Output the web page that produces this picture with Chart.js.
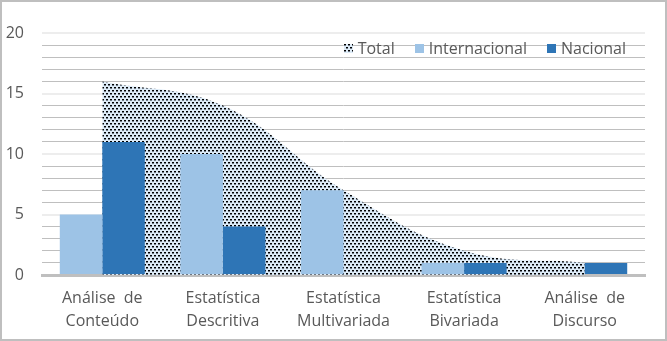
<!DOCTYPE html>
<html>
<head>
<meta charset="utf-8">
<script src="https://cdn.jsdelivr.net/npm/chart.js@4.4.1/dist/chart.umd.min.js"></script>
<style>
  html, body { margin: 0; padding: 0; background: #fff; }
  #wrap { position: relative; width: 667px; height: 341px; overflow: hidden; }
  #frame { position: absolute; left: 0; top: 0; width: 667px; height: 341px; box-sizing: border-box; border: 2px solid #BFBFBF; pointer-events: none; }
  #legend { position: absolute; top: 39px; right: 41px; display: flex; align-items: center; font-family: "Open Sans", sans-serif; font-size: 16px; line-height: 18px; color: #595959; white-space: nowrap; }
  #legend .item { display: flex; align-items: center; margin-left: 20px; }
  #legend .item:first-child { margin-left: 0; }
  #legend .box { display: inline-block; width: 9px; height: 9px; margin-right: 5px; }
</style>
</head>
<body>
<div id="wrap">
  <canvas id="c" width="667" height="341"></canvas>
  <div id="legend"></div>
  <div id="frame"></div>
</div>
<script>
const categories = [['Análise  de', 'Conteúdo'], ['Estatística', 'Descritiva'], ['Estatística', 'Multivariada'], ['Estatística', 'Bivariada'], ['Análise  de', 'Discurso']];
const seriesNames = ['Total', 'Internacional', 'Nacional'];
const total = [16, 14, 7, 2, 1];
const internacional = [5, 10, 7, 1, 0];
const nacional = [11, 4, 0, 1, 1];
const yTickLabels = [0, 5, 10, 15, 20];

const FONT = '"Open Sans", sans-serif';
const TEXT = '#595959';
const C_INT = '#9DC3E6';
const C_NAC = '#2E75B6';

function makePattern() {
  const t = document.createElement('canvas');
  t.width = 4; t.height = 6;
  const g = t.getContext('2d');
  g.fillStyle = '#DDEBF7';
  g.fillRect(0, 0, 4, 6);
  g.fillStyle = '#000000';
  g.fillRect(0, 0, 2, 1);
  g.fillRect(2, 3, 2, 1);
  g.fillStyle = '#6E7782';
  g.fillRect(0, 1, 2, 1);
  g.fillRect(2, 4, 2, 1);
  return t;
}
const tile = makePattern();
const ctx = document.getElementById('c').getContext('2d');
const pattern = ctx.createPattern(tile, 'repeat');

// HTML legend
const legendColors = [null, C_INT, C_NAC];
const legendEl = document.getElementById('legend');
seriesNames.forEach((name, i) => {
  const item = document.createElement('div');
  item.className = 'item';
  const box = document.createElement('span');
  box.className = 'box';
  if (i === 0) {
    box.style.backgroundImage = 'url(' + tile.toDataURL() + ')';
  } else {
    box.style.background = legendColors[i];
  }
  const txt = document.createElement('span');
  txt.textContent = name;
  item.appendChild(box);
  item.appendChild(txt);
  legendEl.appendChild(item);
});

new Chart(ctx, {
  type: 'bar',
  data: {
    labels: categories,
    datasets: [
      { type: 'line', label: seriesNames[0], data: total, fill: 'origin', backgroundColor: pattern,
        borderWidth: 0, borderColor: 'rgba(0,0,0,0)', pointRadius: 0, tension: 0.4, order: 3 },
      { label: seriesNames[1], data: internacional, backgroundColor: C_INT, order: 1,
        categoryPercentage: 0.705, barPercentage: 1 },
      { label: seriesNames[2], data: nacional, backgroundColor: C_NAC, order: 2,
        categoryPercentage: 0.705, barPercentage: 1 }
    ]
  },
  options: {
    responsive: false,
    animation: false,
    devicePixelRatio: 1,
    layout: { padding: { top: 33, right: 22, left: 0, bottom: 0 } },
    plugins: { legend: { display: false }, tooltip: { enabled: false } },
    scales: {
      x: {
        offset: true,
        grid: { display: false, drawTicks: false },
        border: { display: true, color: '#BFBFBF', width: 3 },
        ticks: { color: TEXT, font: { family: FONT, size: 16, lineHeight: 1.45 }, padding: 12, maxRotation: 0, autoSkip: false },
        afterFit: (s) => { s.height = 66; }
      },
      y: {
        min: 0, max: 20,
        border: { display: false },
        grid: {
          drawTicks: false,
          color: (c) => c.tick.value === 0 ? 'rgba(0,0,0,0)' : (c.tick.value % 5 === 0 ? '#EDEDED' : '#BFBFBF'),
          lineWidth: (c) => c.tick.value % 5 === 0 ? 2 : 1
        },
        ticks: {
          stepSize: 1, autoSkip: false, padding: 18, color: TEXT,
          font: { family: FONT, size: 16 },
          callback: (v) => yTickLabels.includes(v) ? String(v) : ''
        },
        afterFit: (s) => { s.width = 42; }
      }
    }
  }
});
</script>
</body>
</html>
